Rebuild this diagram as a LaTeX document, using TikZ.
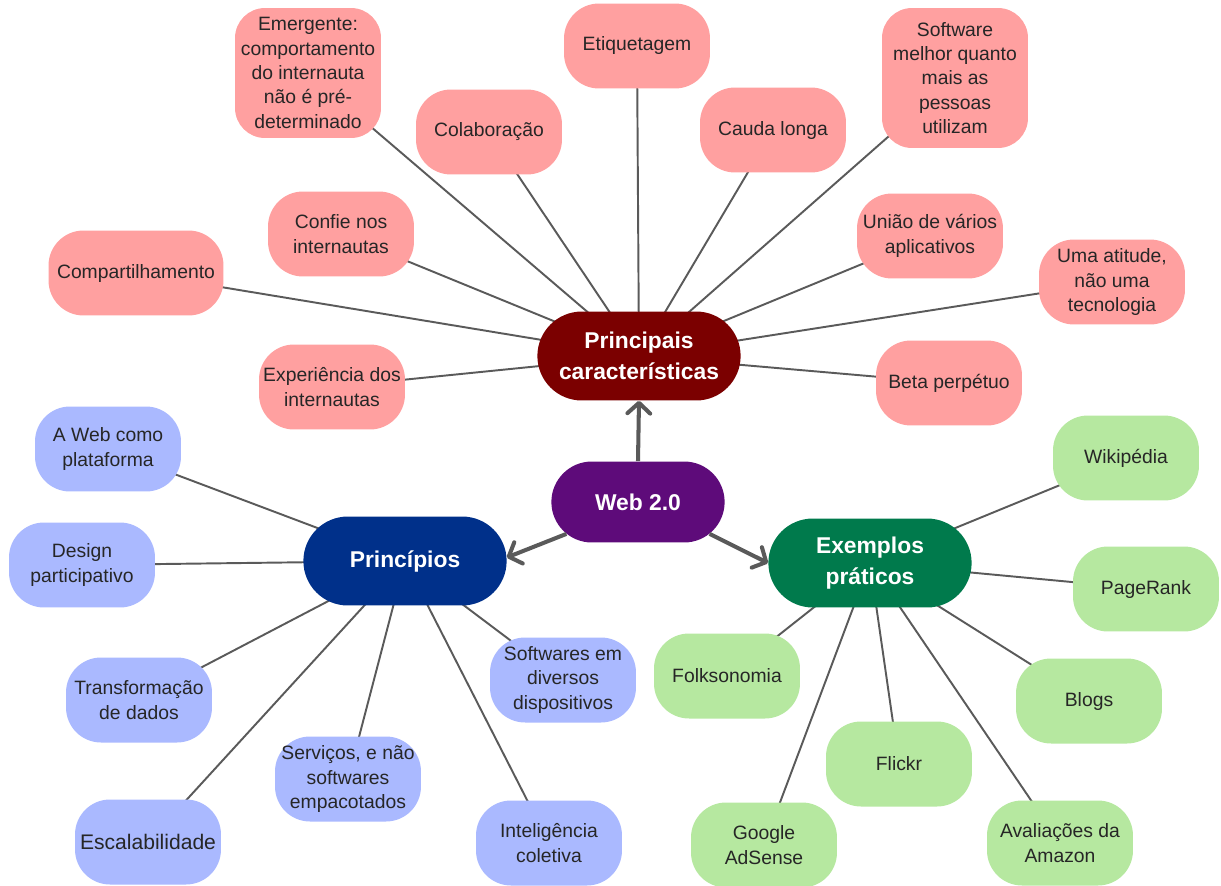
\documentclass[tikz,border=0pt]{standalone}
\usepackage{fontspec}
\setmainfont{Liberation Sans}
\usetikzlibrary{arrows.meta,backgrounds,shapes.misc}

\definecolor{pinkbox}{HTML}{FFA0A0}
\definecolor{bluebox}{HTML}{AAB9FF}
\definecolor{greenbox}{HTML}{B6E8A0}
\definecolor{darkred}{HTML}{7B0000}
\definecolor{webpurple}{HTML}{5E0B7A}
\definecolor{darkblue}{HTML}{00308A}
\definecolor{darkgreen}{HTML}{007A4C}
\definecolor{linkgray}{HTML}{5A5A5A}

\tikzset{
  idea/.style={rectangle, rounded corners=0.7cm, fill=#1, text=black!85,
    align=center, minimum width=2.92cm, minimum height=1.7cm, inner sep=2pt,
    font=\fontsize{11}{13.9}\selectfont},
  hub/.style={rounded rectangle, fill=#1, text=white, align=center,
    minimum width=4.3cm, minimum height=1.78cm,
    font=\bfseries\fontsize{13}{18}\selectfont},
  link/.style={draw=linkgray, line width=1.1pt},
  mainarrow/.style={draw=linkgray, line width=2.3pt,
    -{Straight Barb[length=6pt,width=13pt,round]}}
}

\begin{document}
\begin{tikzpicture}[x=0.02cm,y=-0.02cm]
  \useasboundingbox (0,0) rectangle (1221,886);

  % Central nodes
  \node[hub=webpurple, minimum width=3.7cm, minimum height=1.62cm] (web) at (638,502) {Web 2.0};
  \node[hub=darkred] (carac) at (639,356) {Principais\\características};
  \node[hub=darkblue] (princ) at (405,561) {Princípios};
  \node[hub=darkgreen] (exemp) at (870,563) {Exemplos\\práticos};

  % Principais caracteristicas
  \node[idea=pinkbox, minimum height=2.6cm, rounded corners=0.6cm] (emergente) at (308,73) {Emergente:\\comportamento\\do internauta\\não é pré-\\determinado};
  \node[idea=pinkbox] (etiq) at (637,46) {Etiquetagem};
  \node[idea=pinkbox, minimum height=2.8cm, rounded corners=0.6cm] (software) at (955,78) {Software\\melhor quanto\\mais as\\pessoas\\utilizam};
  \node[idea=pinkbox] (colab) at (489,132) {Colaboração};
  \node[idea=pinkbox] (cauda) at (773,130) {Cauda longa};
  \node[idea=pinkbox] (confie) at (341,234) {Confie nos\\internautas};
  \node[idea=pinkbox] (uniao) at (930,236) {União de vários\\aplicativos};
  \node[idea=pinkbox, minimum width=3.5cm] (compart) at (136,273) {Compartilhamento};
  \node[idea=pinkbox] (atitude) at (1112,282) {Uma atitude,\\não uma\\tecnologia};
  \node[idea=pinkbox] (experiencia) at (332,387) {Experiência dos\\internautas};
  \node[idea=pinkbox] (beta) at (949,383) {Beta perpétuo};

  % Principios
  \node[idea=bluebox] (plataforma) at (108,449) {A Web como\\plataforma};
  \node[idea=bluebox] (design) at (82,565) {Design\\participativo};
  \node[idea=bluebox] (transf) at (139,700) {Transformação\\de dados};
  \node[idea=bluebox, font=\fontsize{12}{14}\selectfont] (escala) at (148,842) {Escalabilidade};
  \node[idea=bluebox] (servicos) at (348,779) {Serviços, e não\\softwares\\empacotados};
  \node[idea=bluebox] (intel) at (549,843) {Inteligência\\coletiva};
  \node[idea=bluebox] (dispos) at (563,680) {Softwares em\\diversos\\dispositivos};

  % Exemplos praticos
  \node[idea=greenbox] (wiki) at (1126,458) {Wikipédia};
  \node[idea=greenbox] (pagerank) at (1146,589) {PageRank};
  \node[idea=greenbox] (folks) at (727,676) {Folksonomia};
  \node[idea=greenbox] (blogs) at (1089,701) {Blogs};
  \node[idea=greenbox] (flickr) at (899,764) {Flickr};
  \node[idea=greenbox] (adsense) at (764,845) {Google\\AdSense};
  \node[idea=greenbox] (amazon) at (1060,843) {Avaliações da\\Amazon};

  % Connectors behind the boxes
  \begin{scope}[on background layer]
    \foreach \n in {emergente,etiq,software,colab,cauda,confie,uniao,compart,atitude,experiencia,beta}
      \draw[link] (\n.center) -- (carac.center);
    \foreach \n in {plataforma,design,transf,escala,servicos,intel,dispos}
      \draw[link] (\n.center) -- (princ.center);
    \foreach \n in {wiki,pagerank,folks,blogs,flickr,adsense,amazon}
      \draw[link] (\n.center) -- (exemp.center);
  \end{scope}

  % Arrows from the root
  \draw[mainarrow] (web.north) -- (carac.south);
  \draw[mainarrow] (web.204) -- (princ.2);
  \draw[mainarrow] (web.-24) -- (exemp.180);

\end{tikzpicture}
\end{document}
